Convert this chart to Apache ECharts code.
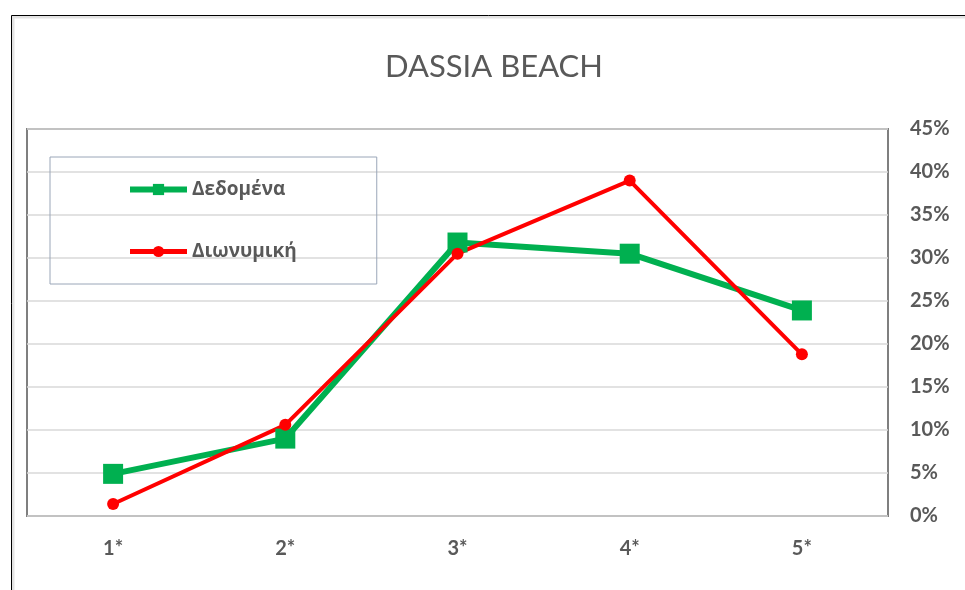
<!DOCTYPE html>
<html lang="el">
<head>
    <meta charset="UTF-8">
    <title>DASSIA BEACH</title>
    <style>
        * { margin: 0; padding: 0; box-sizing: border-box; }
        body { background-color: #ffffff; }
        #chart { width: 965px; height: 590px; }
    </style>
    <script src="https://cdn.jsdelivr.net/npm/echarts@6.0.0/dist/echarts.min.js"></script>
</head>
<body>
    <div id="chart"></div>

    <script>
        // 数据
        const categories = ['1*', '2*', '3*', '4*', '5*'];
        const dataValues = [0.049, 0.090, 0.318, 0.305, 0.239];
        const binomialValues = [0.014, 0.106, 0.305, 0.390, 0.188];
        const seriesNames = ['Δεδομένα', 'Διωνυμική'];

        const labelColor = '#595959';
        const greenColor = '#00b050';
        const redColor = '#ff0000';

        const myChart = echarts.init(document.getElementById('chart'));

        const option = {
            animation: false,
            title: {
                text: 'DASSIA BEACH',
                left: 380,
                top: 46,
                textStyle: {
                    fontFamily: 'Lato',
                    fontSize: 31,
                    fontWeight: 'normal',
                    color: labelColor
                }
            },
            // 外框
            graphic: [
                {
                    type: 'rect',
                    silent: true,
                    shape: { x: 13, y: 17, width: 1000, height: 700 },
                    style: { fill: 'none', stroke: '#e3e3e3', lineWidth: 3 }
                },
                {
                    type: 'rect',
                    silent: true,
                    shape: { x: 11.5, y: 15.5, width: 1000, height: 700 },
                    style: { fill: 'none', stroke: '#000000', lineWidth: 1 }
                }
            ],
            legend: {
                orient: 'vertical',
                left: 50,
                top: 157,
                padding: [23, 80, 23, 77],
                itemGap: 43,
                itemWidth: 57,
                itemHeight: 14,
                borderColor: '#9aa6b8',
                borderWidth: 1,
                data: [
                    { name: seriesNames[0], lineStyle: { width: 6 } },
                    { name: seriesNames[1], lineStyle: { width: 5 } }
                ],
                textStyle: {
                    fontFamily: 'Open Sans',
                    fontSize: 19,
                    fontWeight: 'bold',
                    color: labelColor
                }
            },
            grid: {
                left: 27,
                right: 77,
                top: 129,
                bottom: 74,
                show: true,
                borderColor: '#7f7f7f',
                borderWidth: 2,
                containLabel: false
            },
            xAxis: {
                type: 'category',
                data: categories,
                boundaryGap: true,
                axisLine: { show: false },
                axisTick: { show: false },
                axisLabel: {
                    margin: 23,
                    fontFamily: 'Lato',
                    fontSize: 20,
                    fontWeight: 'bold',
                    color: labelColor
                }
            },
            yAxis: {
                type: 'value',
                position: 'right',
                min: 0,
                max: 0.45,
                interval: 0.05,
                axisLine: { show: false },
                axisTick: { show: false },
                splitLine: { lineStyle: { color: '#d9d9d9', width: 1.5 } },
                axisLabel: {
                    margin: 22,
                    fontFamily: 'Lato',
                    fontSize: 20,
                    fontWeight: 'bold',
                    color: labelColor,
                    formatter: function (v) {
                        return Math.round(v * 100) + '%';
                    }
                }
            },
            series: [
                {
                    name: seriesNames[0],
                    type: 'line',
                    data: dataValues,
                    symbol: 'rect',
                    symbolSize: 20,
                    lineStyle: { color: greenColor, width: 6 },
                    itemStyle: { color: greenColor }
                },
                {
                    name: seriesNames[1],
                    type: 'line',
                    data: binomialValues,
                    symbol: 'circle',
                    symbolSize: 12,
                    lineStyle: { color: redColor, width: 4 },
                    itemStyle: { color: redColor }
                }
            ]
        };

        myChart.setOption(option);
    </script>
</body>
</html>
